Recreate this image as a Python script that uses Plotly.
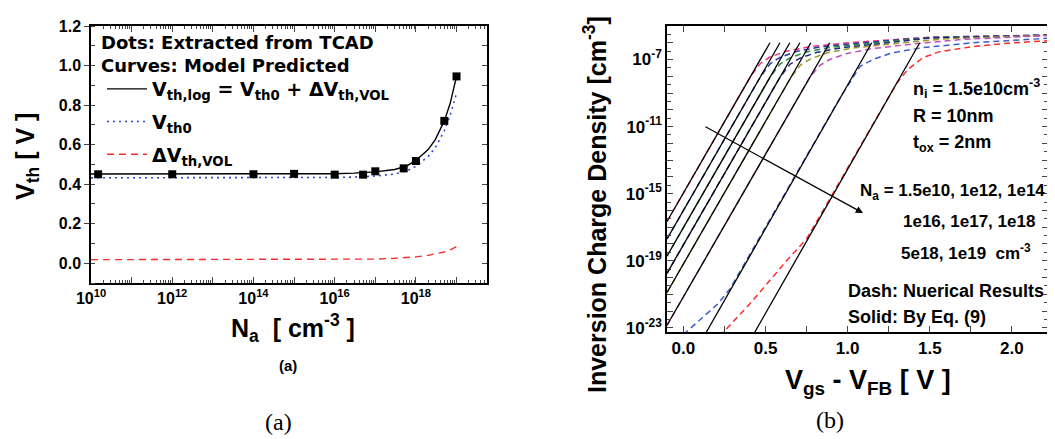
import numpy as np
import plotly.graph_objects as go

W, H = 1055, 439
OFF = 8  # page body margin in the browser
FONT = "Liberation Sans, Arial, sans-serif"
WIDE = "DejaVu Sans, Verdana, sans-serif"

# ---------------- panel (a): Vth vs Na ----------------
na_tcad = [1.5e10, 1e12, 1e14, 1e15, 1e16, 5e16, 1e17, 5e17, 1e18, 5e18, 1e19]
vth_tcad = [0.45, 0.45, 0.45, 0.452, 0.448, 0.448, 0.465, 0.48, 0.517, 0.72, 0.945]

na_model = [1e10, 1e12, 1e14, 1e15, 1e16, 3e16, 1e17, 3e17, 6e17, 1e18, 2e18, 3e18, 5e18, 7e18, 1e19]
vth_log = [0.451, 0.451, 0.451, 0.452, 0.453, 0.456, 0.462, 0.474, 0.492, 0.52, 0.575, 0.625, 0.72, 0.81, 0.945]
vth0 = [0.432, 0.432, 0.432, 0.433, 0.434, 0.436, 0.441, 0.451, 0.467, 0.49, 0.54, 0.585, 0.67, 0.75, 0.86]
dvth_vol = [0.018, 0.018, 0.018, 0.018, 0.018, 0.019, 0.021, 0.025, 0.028, 0.032, 0.04, 0.047, 0.057, 0.068, 0.085]

# ---------------- panel (b): inversion charge density ----------------
na_list = ["1.5e10", "1e12", "1e14", "1e16", "1e17", "1e18", "5e18", "1e19"]
dash_colors = ["#ff2a8a", "#2a35a8", "#2e8b3e", "#1c2a80", "#9a9a2a", "#c04fc0", "#3a5ed0", "#ff2a2a"]

# solid: By Eq. (9)  (Vgs-VFB, log10 density)
eq9_vgs = [[-0.1, 0.527], [-0.1, 0.588], [-0.1, 0.648], [-0.1, 0.709],
           [-0.1, 0.776], [-0.1, 0.891], [0.14, 1.147], [0.435, 1.439]]
eq9_logn = [[-16.66, -6.0], [-17.70, -6.0], [-18.72, -6.0], [-19.75, -6.0],
            [-20.89, -6.0], [-22.85, -6.0], [-23.25, -6.0], [-23.25, -6.0]]

# dash: numerical results
num_vgs = [
    [-0.1, 0.407, 0.467, 0.527, 0.627, 0.777, 1.027, 1.5, 2.22],
    [-0.1, 0.468, 0.528, 0.588, 0.688, 0.838, 1.088, 1.5, 2.22],
    [-0.1, 0.528, 0.588, 0.648, 0.748, 0.898, 1.148, 1.5, 2.22],
    [-0.1, 0.589, 0.649, 0.709, 0.809, 0.959, 1.209, 1.5, 2.22],
    [-0.1, 0.656, 0.716, 0.776, 0.876, 1.026, 1.276, 1.6, 2.22],
    [-0.1, 0.771, 0.831, 0.891, 0.991, 1.141, 1.391, 1.7, 2.22],
    [0.0, 0.21, 0.284, 0.405, 0.953, 1.076, 1.155, 1.27, 1.45, 1.76, 2.06, 2.22],
    [0.22, 0.405, 0.628, 0.75, 1.30, 1.366, 1.457, 1.56, 1.76, 1.97, 2.22],
]
num_logn = [
    [-16.66, -8.04, -7.25, -6.85, -6.5, -6.22, -5.98, -5.67, -5.54],
    [-17.70, -8.04, -7.25, -6.87, -6.52, -6.24, -6.0, -5.68, -5.54],
    [-18.72, -8.04, -7.27, -6.9, -6.55, -6.27, -6.02, -5.7, -5.55],
    [-19.75, -8.04, -7.28, -6.92, -6.58, -6.3, -6.04, -5.72, -5.55],
    [-20.89, -8.04, -7.3, -6.95, -6.6, -6.32, -6.06, -5.76, -5.56],
    [-22.85, -8.04, -7.35, -7.0, -6.65, -6.36, -6.08, -5.8, -5.57],
    [-23.4, -21.57, -20.67, -18.6, -9.3, -7.4, -7.0, -6.6, -6.3, -6.0, -5.85, -5.73],
    [-23.5, -21.57, -19.0, -17.7, -8.4, -7.6, -6.9, -6.53, -6.23, -6.03, -5.88],
]


def px(x):
    return (x - OFF) / W


def py(y):
    return 1 - (y - OFF) / H


fig = go.Figure()

# panel (a) traces
fig.add_trace(go.Scatter(x=na_model, y=vth_log, mode="lines", line=dict(color="black", width=1.4),
                         name="V<sub>th,log</sub> = V<sub>th0</sub> + ΔV<sub>th,VOL</sub>",
                         legendgroup="g1", xaxis="x", yaxis="y"))
fig.add_trace(go.Scatter(x=na_model, y=vth0, mode="lines", line=dict(color="#3344cc", width=1.6, dash="2px,4px"),
                         name="V<sub>th0</sub>", legendgroup="g2", xaxis="x", yaxis="y"))
fig.add_trace(go.Scatter(x=na_model, y=dvth_vol, mode="lines", line=dict(color="#ff2a2a", width=1.4, dash="7px,5px"),
                         name="ΔV<sub>th,VOL</sub>", legendgroup="g3", xaxis="x", yaxis="y"))
fig.add_trace(go.Scatter(x=na_tcad, y=vth_tcad, mode="markers", marker=dict(symbol="square", size=8, color="black"),
                         showlegend=False, xaxis="x", yaxis="y"))
fig.add_trace(go.Scatter(x=[], y=[], showlegend=False, xaxis="x", yaxis="y3"))

# panel (b) traces
for i, na in enumerate(na_list):
    fig.add_trace(go.Scatter(x=num_vgs[i], y=[10 ** v for v in num_logn[i]], mode="lines",
                             line=dict(color=dash_colors[i], width=1.5, dash="6px,4px"),
                             showlegend=False, name=na, xaxis="x2", yaxis="y2"))
for i, na in enumerate(na_list):
    fig.add_trace(go.Scatter(x=eq9_vgs[i], y=[10 ** v for v in eq9_logn[i]], mode="lines",
                             line=dict(color="black", width=1.3),
                             showlegend=False, name=na, xaxis="x2", yaxis="y2"))

tickfont = dict(family=FONT, size=16, color="black", weight="bold")
axis_common = dict(showline=True, linecolor="black", linewidth=1.5, showgrid=False, zeroline=False,
                   automargin=False)

dec_a = list(range(10, 20))
minor_a = [k * 10.0 ** e for e in dec_a for k in range(2, 10)]
dec_b = list(range(-23, -4))

fig.update_layout(
    width=W, height=H, margin=dict(l=0, r=0, t=0, b=0, autoexpand=False),
    paper_bgcolor="white", plot_bgcolor="white",
    font=dict(family=FONT, color="black"),
    xaxis=dict(type="log", range=[10, 19.75], domain=[px(91), px(487)], anchor="y",
               tickvals=[10.0 ** e for e in dec_a],
               ticktext=[f"10<sup>{e}</sup>" if e % 2 == 0 else "" for e in dec_a],
               ticks="inside", ticklen=6, mirror="ticks", tickfont=tickfont,
               minor=dict(tickvals=minor_a, ticks="inside", ticklen=3), **axis_common),
    yaxis=dict(range=[-0.1, 1.2], domain=[py(283), py(26)], anchor="x",
               dtick=0.2, tick0=0, tickformat=".1f", ticks="outside", ticklen=5, mirror=True,
               tickfont=tickfont, minor=dict(dtick=0.1, ticks="inside", ticklen=4), **axis_common),
    yaxis3=dict(range=[-0.1, 1.2], overlaying="y", side="right", anchor="x", dtick=0.1, tick0=0,
                ticks="inside", ticklen=5, showticklabels=False, showgrid=False, zeroline=False,
                automargin=False),
    xaxis2=dict(range=[-0.1, 2.22], domain=[px(667), px(1048)], anchor="y2",
                dtick=0.5, tick0=0, tickformat=".1f", ticks="inside", ticklen=6, mirror="ticks",
                tickfont=dict(family=FONT, size=17, color="black", weight="bold"),
                minor=dict(dtick=0.25, tick0=0, ticks="inside", ticklen=6), **axis_common),
    yaxis2=dict(type="log", range=[-23.25, -5], domain=[py(332), py(26)], anchor="x2",
                tickvals=[10.0 ** e for e in dec_b],
                ticktext=[f"10<sup>{e}</sup>" if (e + 23) % 4 == 0 else "" for e in dec_b],
                ticks="inside", ticklen=6, mirror="ticks",
                tickfont=dict(family=FONT, size=17, color="black", weight="bold"),
                minor=dict(tickvals=[10.0 ** (e + 0.5) for e in dec_b], ticks="inside", ticklen=4),
                **axis_common),
    legend=dict(x=px(102), y=py(70), xanchor="left", yanchor="top", bgcolor="rgba(0,0,0,0)",
                font=dict(family=WIDE, size=19, color="black", weight="bold"),
                tracegroupgap=5, itemwidth=40),
    showlegend=True,
)


def note(text, x, y, size=17, weight="bold", xanchor="left", angle=0, family=FONT):
    fig.add_annotation(text=text, x=px(x), y=py(y), xref="paper", yref="paper",
                       xanchor=xanchor, yanchor="middle", showarrow=False, textangle=angle,
                       font=dict(family=family, size=size, color="black", weight=weight))


# panel (a) texts
note("Dots: Extracted from TCAD", 99, 42, size=18, family=WIDE)
note("Curves: Model Predicted", 99, 66, size=18, family=WIDE)
note("V<sub>th</sub> [ V ]", 27, 157, size=25, xanchor="center", angle=-90)
note("N<sub>a</sub>  [ cm<sup>-3</sup> ]", 293, 328, size=25, xanchor="center")
note("(a)", 288, 365, size=15, xanchor="center")
note("(a)", 278, 422, size=24, weight="normal", xanchor="center", family="Liberation Serif, serif")

# panel (b) texts
note("Inversion Charge Density [cm<sup>-3</sup>]", 595, 205, size=25, xanchor="center", angle=-90)
note("V<sub>gs</sub> - V<sub>FB</sub> [ V ]", 868, 382, size=27, xanchor="center")
note("(b)", 830, 420, size=24, weight="normal", xanchor="center", family="Liberation Serif, serif")
note("n<sub>i</sub> = 1.5e10cm<sup>-3</sup>", 911, 88, size=18)
note("R = 10nm", 911, 116, size=18)
note("t<sub>ox</sub> = 2nm", 911, 143, size=18)
note("N<sub>a</sub> = 1.5e10, 1e12, 1e14", 858, 192, size=17)
note("1e16, 1e17, 1e18", 901, 221, size=17)
note("5e18, 1e19  cm<sup>-3</sup>", 899, 252, size=17)
note("Dash: Nuerical Results", 846, 291, size=18)
note("Solid: By Eq. (9)", 846, 317, size=18)

# arrow showing increasing Na
fig.add_annotation(x=px(863), y=py(213), xref="paper", yref="paper", ax=-159, ay=-87,
                   axref="pixel", ayref="pixel", text="", showarrow=True,
                   arrowhead=2, arrowsize=1.2, arrowwidth=1.2, arrowcolor="black")

fig.write_html("out.html")
